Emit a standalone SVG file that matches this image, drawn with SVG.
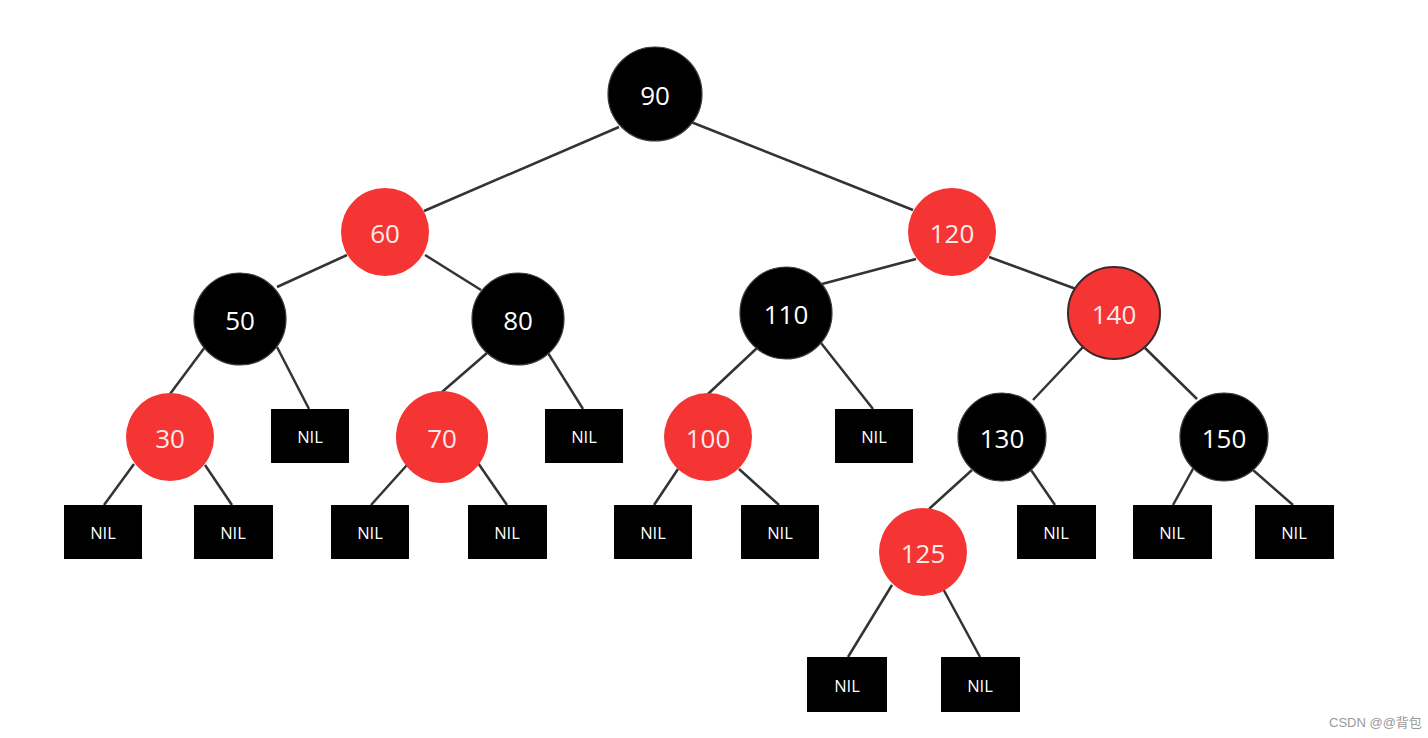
<svg xmlns="http://www.w3.org/2000/svg" width="1428" height="738" viewBox="0 0 1428 738">
<style>
.e{stroke:#333;stroke-width:2.5;fill:none}
.b{fill:#000;stroke:#3a3a3a;stroke-width:1.2}
.r{fill:#f53434}
.r2{fill:#f53434;stroke:#3a2a2a;stroke-width:2}
.n{fill:#000}
.t{font-family:"Open Sans","Noto Sans",sans-serif;font-size:26px;fill:#fff;text-anchor:middle;dominant-baseline:central}
.tr{fill:#fdeaea}
.nt{font-family:"Open Sans","Noto Sans",sans-serif;font-size:16.5px;fill:#fff;text-anchor:middle;dominant-baseline:central}
.w{font-family:"Liberation Sans","Noto Sans CJK SC",sans-serif;font-size:13px;fill:#999}
</style>
<rect width="1428" height="738" fill="#fff"/>
<g id="connectors">
<line class="e" x1="619" y1="127" x2="424" y2="211"/>
<line class="e" x1="691" y1="122" x2="913" y2="210"/>
<line class="e" x1="347" y1="255" x2="277" y2="287"/>
<line class="e" x1="425" y1="255" x2="481" y2="290"/>
<line class="e" x1="916" y1="259" x2="822" y2="284"/>
<line class="e" x1="989" y1="257" x2="1076" y2="289"/>
<line class="e" x1="205" y1="347" x2="170" y2="394"/>
<line class="e" x1="277" y1="347" x2="309" y2="409"/>
<line class="e" x1="487" y1="353" x2="442" y2="392"/>
<line class="e" x1="548" y1="353" x2="583" y2="409"/>
<line class="e" x1="757" y1="348" x2="708" y2="394"/>
<line class="e" x1="821" y1="343" x2="873" y2="409"/>
<line class="e" x1="1083" y1="347" x2="1033" y2="400"/>
<line class="e" x1="1145" y1="348" x2="1197" y2="399"/>
<line class="e" x1="134" y1="464" x2="104" y2="505"/>
<line class="e" x1="205" y1="465" x2="232" y2="505"/>
<line class="e" x1="407" y1="465" x2="371" y2="505"/>
<line class="e" x1="478" y1="463" x2="507" y2="505"/>
<line class="e" x1="678" y1="469" x2="654" y2="505"/>
<line class="e" x1="739" y1="469" x2="779" y2="505"/>
<line class="e" x1="972" y1="470" x2="929" y2="509"/>
<line class="e" x1="1031" y1="470" x2="1055" y2="505"/>
<line class="e" x1="1194" y1="467" x2="1173" y2="505"/>
<line class="e" x1="1253" y1="470" x2="1293" y2="505"/>
<line class="e" x1="892" y1="585" x2="848" y2="657"/>
<line class="e" x1="941" y1="585" x2="980" y2="657"/>
</g>
<g id="n90"><circle class="b" cx="655" cy="94" r="47"/><text class="t" x="655" y="95">90</text></g>
<g id="n60"><circle class="r" cx="385" cy="232" r="44"/><text class="t tr" x="385" y="233">60</text></g>
<g id="n120"><circle class="r" cx="952" cy="232" r="44"/><text class="t tr" x="952" y="233">120</text></g>
<g id="n50"><circle class="b" cx="240" cy="319" r="46"/><text class="t" x="240" y="320">50</text></g>
<g id="n80"><circle class="b" cx="518" cy="319" r="46"/><text class="t" x="518" y="320">80</text></g>
<g id="n110"><circle class="b" cx="786" cy="313" r="46"/><text class="t" x="786" y="314">110</text></g>
<g id="n140"><circle class="r2" cx="1114" cy="313" r="46"/><text class="t tr" x="1114" y="314">140</text></g>
<g id="n30"><circle class="r" cx="170" cy="437" r="44"/><text class="t tr" x="170" y="438">30</text></g>
<g id="n70"><circle class="r" cx="442" cy="437" r="46"/><text class="t tr" x="442" y="438">70</text></g>
<g id="n100"><circle class="r" cx="708" cy="437" r="44"/><text class="t tr" x="708" y="438">100</text></g>
<g id="n130"><circle class="b" cx="1002" cy="437" r="44"/><text class="t" x="1002" y="438">130</text></g>
<g id="n150"><circle class="b" cx="1224" cy="437" r="44"/><text class="t" x="1224" y="438">150</text></g>
<g id="n125"><circle class="r" cx="923" cy="552" r="44"/><text class="t tr" x="923" y="553">125</text></g>
<g id="nil1"><rect class="n" x="64" y="505" width="78" height="54"/><text class="nt" x="103" y="532">NIL</text></g>
<g id="nil2"><rect class="n" x="194" y="505" width="79" height="54"/><text class="nt" x="233" y="532">NIL</text></g>
<g id="nil3"><rect class="n" x="271" y="409" width="78" height="54"/><text class="nt" x="310" y="436">NIL</text></g>
<g id="nil4"><rect class="n" x="331" y="505" width="78" height="54"/><text class="nt" x="370" y="532">NIL</text></g>
<g id="nil5"><rect class="n" x="468" y="505" width="79" height="54"/><text class="nt" x="507" y="532">NIL</text></g>
<g id="nil6"><rect class="n" x="545" y="409" width="78" height="54"/><text class="nt" x="584" y="436">NIL</text></g>
<g id="nil7"><rect class="n" x="614" y="505" width="78" height="54"/><text class="nt" x="653" y="532">NIL</text></g>
<g id="nil8"><rect class="n" x="741" y="505" width="78" height="54"/><text class="nt" x="780" y="532">NIL</text></g>
<g id="nil9"><rect class="n" x="835" y="409" width="78" height="54"/><text class="nt" x="874" y="436">NIL</text></g>
<g id="nil10"><rect class="n" x="1017" y="505" width="79" height="54"/><text class="nt" x="1056" y="532">NIL</text></g>
<g id="nil11"><rect class="n" x="1133" y="505" width="79" height="54"/><text class="nt" x="1172" y="532">NIL</text></g>
<g id="nil12"><rect class="n" x="1255" y="505" width="79" height="54"/><text class="nt" x="1294" y="532">NIL</text></g>
<g id="nil13"><rect class="n" x="807" y="657" width="80" height="55"/><text class="nt" x="847" y="685">NIL</text></g>
<g id="nil14"><rect class="n" x="941" y="657" width="79" height="55"/><text class="nt" x="980" y="685">NIL</text></g>
<text class="w" x="1329" y="727">CSDN @@背包</text>
</svg>
